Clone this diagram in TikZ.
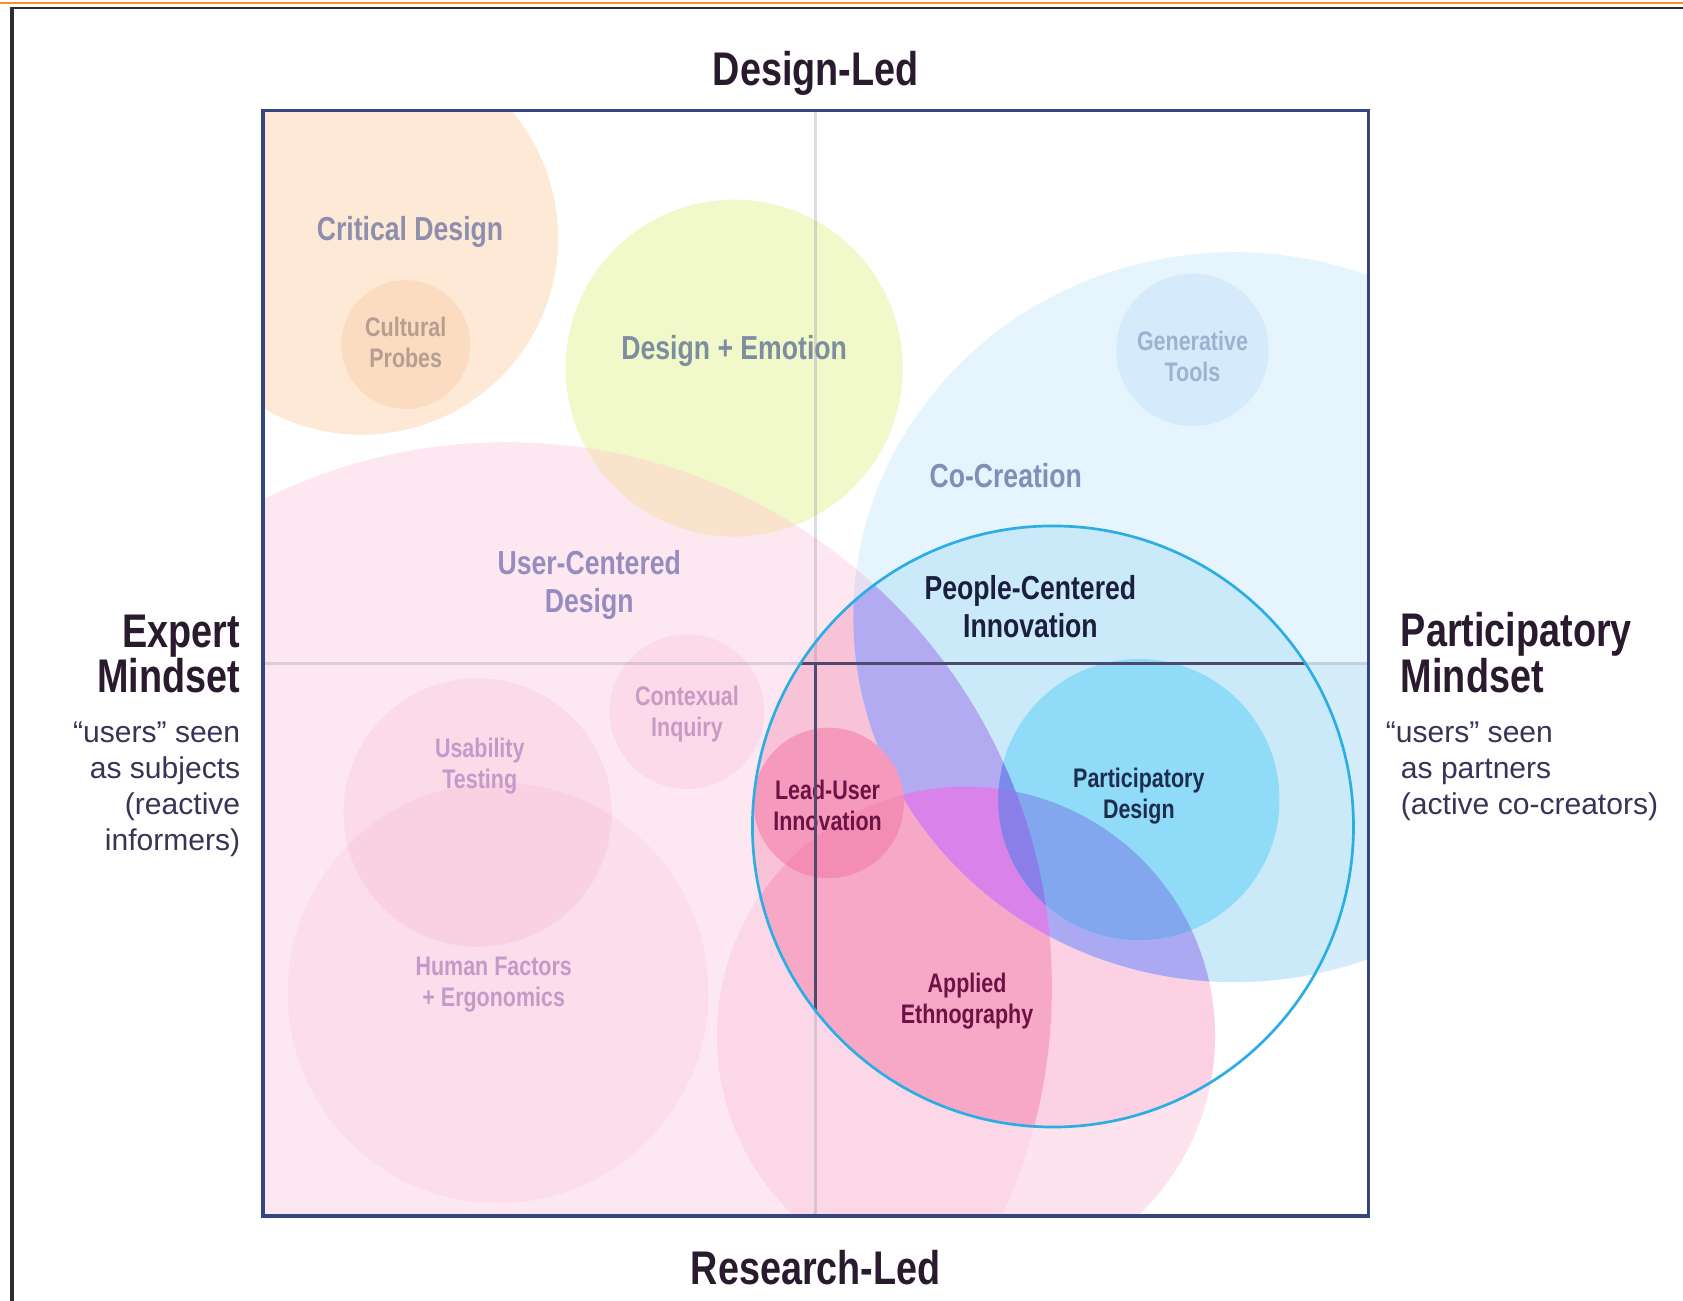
\documentclass[tikz,border=0pt]{standalone}
\usepackage{fontspec}
\setmainfont{Liberation Sans}
\newfontfamily\condfont{Liberation Sans}[FakeStretch=0.8]
\newfontfamily\plainfont{Liberation Sans}
% region colours
\definecolor{cUCD}{HTML}{FDE8F1}
\definecolor{cCD}{HTML}{FDE9D6}
\definecolor{cCP}{HTML}{FBDCC0}
\definecolor{cDE}{HTML}{F1F8C9}
\definecolor{cDEU}{HTML}{F9E3CC}
\definecolor{cCoC}{HTML}{E5F4FD}
\definecolor{cCoCR}{HTML}{D5EDFB}
\definecolor{cCoCU}{HTML}{E6DDF3}
\definecolor{cGT}{HTML}{D5EBFB}
\definecolor{cHF}{HTML}{FCDDEB}
\definecolor{cUT}{HTML}{FCDBE9}
\definecolor{cUTHF}{HTML}{FAD0E3}
\definecolor{cCI}{HTML}{FCDAE9}
\definecolor{cAE}{HTML}{FDE3EE}
\definecolor{cAEU}{HTML}{FCD7E7}
\definecolor{iU}{HTML}{F9C3D7}
\definecolor{iA}{HTML}{FBD1E3}
\definecolor{iAU}{HTML}{F7A8C7}
\definecolor{iC}{HTML}{CAEAFA}
\definecolor{iCU}{HTML}{B2ABF1}
\definecolor{iCA}{HTML}{AAA9F1}
\definecolor{iCAU}{HTML}{D983EA}
\definecolor{iPD}{HTML}{90DBF8}
\definecolor{iPDA}{HTML}{82A7EF}
\definecolor{iPDU}{HTML}{7C8AED}
\definecolor{iPDAU}{HTML}{8A7EE8}
\definecolor{iLU}{HTML}{F59ABD}
\definecolor{iLUA}{HTML}{F38DB4}
% text colours
\definecolor{ctitle}{HTML}{2A1A2E}
\definecolor{csub}{HTML}{3A3357}
\definecolor{tCD}{HTML}{8E8FAD}
\definecolor{tCP}{HTML}{B79E92}
\definecolor{tDE}{HTML}{7E8EA0}
\definecolor{tGT}{HTML}{9DB2CE}
\definecolor{tCoC}{HTML}{7F8FB8}
\definecolor{tUCD}{HTML}{978CC0}
\definecolor{tPCI}{HTML}{1B1F3F}
\definecolor{tCI}{HTML}{C79BC4}
\definecolor{tUT}{HTML}{C59ACB}
\definecolor{tLU}{HTML}{6C1245}
\definecolor{tPD}{HTML}{1D2D4D}
\definecolor{tHF}{HTML}{C49BC8}
\definecolor{tAE}{HTML}{6C1245}
% lines
\definecolor{lightaxis}{HTML}{8E8EA8}
\definecolor{darkaxis}{HTML}{4E4A6E}
\definecolor{pciline}{HTML}{2AAEE3}
\definecolor{squareline}{HTML}{34457F}
\definecolor{framedark}{HTML}{2E2E2E}
\definecolor{frameorange}{HTML}{F7941D}

\tikzset{
  lbl/.style={inner sep=0pt, align=center, font=\condfont\bfseries\fontsize{31}{35}\selectfont},
  slbl/.style={inner sep=0pt, align=center, font=\condfont\bfseries\fontsize{25}{29}\selectfont},
  titletext/.style={inner sep=0pt, font=\condfont\bfseries\fontsize{44}{44}\selectfont, text=ctitle},
  subtext/.style={inner sep=0pt, font=\plainfont\fontsize{28}{33}\selectfont, text=csub},
  axislight/.style={draw=lightaxis, opacity=0.3, line width=2.5pt},
  axisdark/.style={draw=darkaxis, line width=3.2pt},
  pcistroke/.style={draw=pciline, line width=2.5pt},
  squarestroke/.style={draw=squareline, line width=3.5pt},
}

\def\pUCD{(472,920) circle [radius=508]}
\def\pCD{(337,222) circle [radius=183]}
\def\pCP{(378,321) circle [radius=60]}
\def\pDE{(684,343) circle [radius=157]}
\def\pCoC{(1150,575) ellipse [x radius=355, y radius=340]}
\def\pGT{(1111,326) circle [radius=71]}
\def\pHF{(464,925) circle [radius=196]}
\def\pUT{(445,757) circle [radius=125]}
\def\pCI{(640,663) circle [radius=72]}
\def\pAE{(900,965) circle [radius=232]}
\def\pPCI{(981,770) circle [radius=280]}
\def\pPD{(1061,745) circle [radius=131]}
\def\pLU{(772,748) circle [radius=70]}

\begin{document}
\begin{tikzpicture}[x=1pt,y=-1pt]
\useasboundingbox (0,0) rectangle (1568,1212);
\fill[white] (0,0) rectangle (1568,1212);

% screenshot frame
\draw[frameorange, line width=2pt] (0,2.5) -- (1568,2.5);
\draw[framedark, line width=2.5pt] (10,7.5) -- (1568,7.5);
\draw[framedark, line width=3.5pt] (11,6.5) -- (11,1212);

\begin{scope}
  \clip (245,103) rectangle (1275,1133);
  \fill[cUCD] \pUCD;
  \fill[cCD] \pCD;
  \fill[cCP] \pCP;
  \fill[cDE] \pDE;
  \begin{scope}\clip \pDE; \fill[cDEU] \pUCD; \end{scope}
  \fill[cCoC] \pCoC;
  \begin{scope}\clip \pCoC; \fill[cCoCR] (760,618) rectangle (1275,1133); \end{scope}
  \begin{scope}\clip \pCoC; \fill[cCoCU] \pUCD; \end{scope}
  \fill[cGT] \pGT;
  \fill[cHF] \pHF;
  \fill[cUT] \pUT;
  \begin{scope}\clip \pUT; \fill[cUTHF] \pHF; \end{scope}
  \fill[cCI] \pCI;
  \fill[cAE] \pAE;
  \begin{scope}\clip \pAE; \fill[cAEU] \pUCD; \end{scope}
  % inside the People-Centered Innovation circle
  \begin{scope}
    \clip \pPCI;
    \fill[white] \pPCI;
    \fill[iU] \pUCD;
    \fill[iA] \pAE;
    \begin{scope}\clip \pAE; \fill[iAU] \pUCD; \end{scope}
    \fill[iC] \pCoC;
    \begin{scope}
      \clip \pCoC;
      \fill[iCU] \pUCD;
      \fill[iCA] \pAE;
      \begin{scope}\clip \pAE; \fill[iCAU] \pUCD; \end{scope}
    \end{scope}
    \fill[iPD] \pPD;
    \begin{scope}
      \clip \pPD;
      \fill[iPDA] \pAE;
      \fill[iPDU] \pUCD;
      \begin{scope}\clip \pUCD; \fill[iPDAU] \pAE; \end{scope}
    \end{scope}
    \fill[iLU] \pLU;
    \begin{scope}\clip \pLU; \fill[iLUA] \pAE; \end{scope}
  \end{scope}
  % light axes
  \draw[axislight] (760,103) -- (760,1133);
  \draw[axislight] (245,618) -- (1275,618);
\end{scope}

% Lead-User label sits under the dark axis
\node[slbl, text=tLU] (lu) at (771,750) {Lead-User\\Innovation};

% dark axes inside the circle
\begin{scope}
  \clip \pPCI;
  \draw[axisdark] (690,618) -- (1270,618);
  \draw[axisdark] (760,618) -- (760,1060);
\end{scope}
\draw[pcistroke] \pPCI;
\draw[squarestroke] (245,103) rectangle (1275,1133);

% circle labels
\node[lbl, text=tCD] (cd) at (382,216) {Critical Design};
\node[slbl, text=tCP] (cp) at (378,319) {Cultural\\Probes};
\node[lbl, text=tDE] (de) at (684,327) {Design + Emotion};
\node[slbl, text=tGT] (gt) at (1111,332) {Generative\\Tools};
\node[lbl, text=tCoC] (coc) at (937,443) {Co-Creation};
\node[lbl, text=tUCD] (ucd) at (549,545) {User-Centered\\Design};
\node[lbl, text=tPCI] (pci) at (960,565) {People-Centered\\Innovation};
\node[slbl, text=tCI] (ci) at (640,665) {Contexual\\Inquiry};
\node[slbl, text=tUT] (ut) at (447,714) {Usability\\Testing};
\node[slbl, text=tPD] (pd) at (1061,742) {Participatory\\Design};
\node[slbl, text=tHF] (hf) at (460,917) {Human Factors\\+ Ergonomics};
\node[slbl, text=tAE] (ae) at (901,933) {Applied\\Ethnography};

% axis titles
\node[titletext, anchor=base] (top) at (760,80) {Design-Led};
\node[titletext, anchor=base] (bottom) at (760,1197) {Research-Led};
\node[titletext, anchor=base east] (ex1) at (224,603) {Expert};
\node[titletext, anchor=base east] (ex2) at (224,645) {Mindset};
\node[subtext, anchor=base east] (exs1) at (224,692) {“users” seen};
\node[subtext, anchor=base east] (exs2) at (224,725) {as subjects};
\node[subtext, anchor=base east] (exs3) at (224,759) {(reactive};
\node[subtext, anchor=base east] (exs4) at (224,792) {informers)};
\node[titletext, anchor=base west] (pa1) at (1305,602) {Participatory};
\node[titletext, anchor=base west] (pa2) at (1305,645) {Mindset};
\node[subtext, anchor=base west] (pas1) at (1291,692) {“users” seen};
\node[subtext, anchor=base west] (pas2) at (1305,725) {as partners};
\node[subtext, anchor=base west] (pas3) at (1305,759) {(active co-creators)};
\end{tikzpicture}
\end{document}
